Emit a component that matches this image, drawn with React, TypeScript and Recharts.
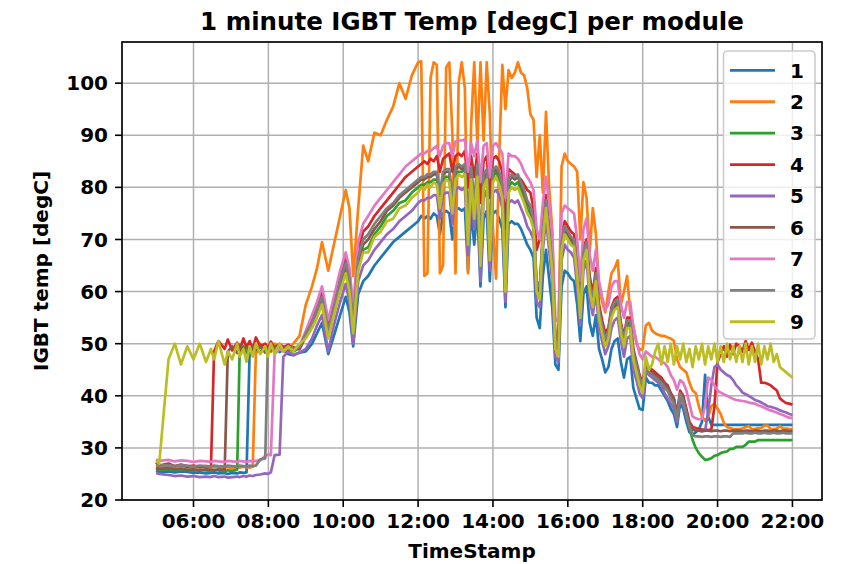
import React from 'react';
import { LineChart, Line, XAxis, YAxis, CartesianGrid } from 'recharts';

// ---------- data ----------
const timeStamps = [
  '05:00','05:05','05:20','05:30','05:40','05:50','06:00','06:10','06:20','06:28','06:33','06:40','06:50','06:55','07:02','07:10',
  '07:14','07:20','07:25','07:30','07:35','07:40','07:47','07:55','07:59','08:04','08:10','08:18','08:24','08:32','08:40','08:50',
  '09:00','09:10','09:18','09:26','09:36','09:45','09:55','10:04','10:10','10:16','10:24','10:32','10:40','10:50','11:00','11:10','11:20','11:30','11:40','11:50',
  '12:00','12:05','12:10','12:15','12:20','12:25','12:30','12:35','12:40','12:45','12:50','12:55',
  '13:00','13:05','13:10','13:15','13:20','13:25','13:30','13:35','13:40','13:45','13:50','13:55',
  '14:00','14:05','14:10','14:15','14:20','14:25','14:30','14:35','14:40','14:45','14:50','14:55',
  '15:00',
  '15:05','15:10','15:15','15:20','15:25','15:30','15:35','15:40','15:45','15:50','15:55','16:00',
  '16:05','16:10','16:15','16:20','16:25','16:30','16:35','16:40','16:45','16:50','16:55','17:00',
  '17:05','17:10','17:15','17:20','17:25','17:30','17:35','17:40','17:45','17:50','17:55','18:00',
  '18:05','18:10','18:15','18:20','18:25','18:30','18:35','18:40','18:45','18:50','18:55','19:00',
  '19:05','19:10','19:15','19:20','19:25','19:30','19:35','19:40','19:45','19:50','19:55','20:00',
  '20:05','20:10','20:15','20:20','20:25','20:30',
  '20:35','20:40','20:45','20:50','20:55','21:00','21:05','21:10','21:15','21:20','21:25','21:30',
  '21:35','21:40','21:45','21:50','21:55','22:00',
];

const module1 = [
  25.6,25.4,25.5,25.3,25.5,25.4,25.2,25.3,25.1,25.2,25.3,25.1,25.2,25.0,25.2,25.1,25.3,25.2,25.3,48.5,49,48.2,49.5,48.3,49,48.5,49.2,48.4,48.8,48,47.8,48.3,
  48.5,50,52,54,48,51.5,55.5,59,56,49.5,59.5,62,63,65,66.5,68,69.5,70.5,71.5,72.5,
  73.5,74.5,74,74.5,74,75,74.5,71,75,75.5,75,70,
  75.5,76,75.5,76,64,75.5,69,76,61,74,75.5,62,
  75,75.5,74,72,57,73,73.5,73,73,72,70.5,69,
  68,
  66.5,55,53,63,68,62.5,57,46,45,61,64,63.5,
  62.5,62,57.5,50.5,59.5,61,54,51.5,55.5,49,47,44.5,
  45.5,49,50.5,51,46.5,43.5,47,47.5,41.5,39.5,37.5,37.3,
  43.5,42.5,42.5,42,42,41,40,39,37.5,36.5,34,38.5,
  37.5,35,33,32.5,33,33.5,35,44,36,34.5,34.4,34.4,
  34.4,34.4,34.4,34.4,34.4,34.4,
  34.4,34.4,34.4,34.4,34.4,34.4,34.4,34.4,34.4,34.4,34.4,34.4,
  34.4,34.4,34.4,34.4,34.4,34.4,
];

const module2 = [
  26.5,26.3,26.4,26.2,26.4,26.3,26.2,26.4,26.3,26.2,26.4,26.3,26.2,26.3,26.1,26.3,26.2,26.4,26.3,26.2,26.4,48.5,50,48.7,49.6,48.5,50,49,49.5,49,50,51.5,
  57.5,61,64.5,69.5,64,69,74.5,79.5,76,63,76,88,85,90.5,90,93,95.5,100,97,101.5,
  104,104.2,63,63.5,101,104,103.5,63.5,65,103,104,90,
  63.5,100,104,99,63.5,92,104,88,104,89,104,94,
  72,62.5,86,103.5,95,102.5,101,102,104,102,101.5,99,
  94,
  93,82,90,79,94.5,80,72,50,52,84,86.5,85,
  84.5,84,83,70,81,78,67.5,76,71,61,58,56,
  60,63.5,64.5,66,57.5,60,63,56,53.5,50,48.8,49,
  53.5,54,52.5,52,51.7,51.5,51.5,51.2,51,50.5,47,45.5,
  45,44.5,42.5,41,40.5,38,36,35.2,36,38,38.5,37.5,
  36.5,34.8,34,33.8,33.6,33.6,
  33.6,33.7,34.0,34.2,33.6,33.6,33.8,33.8,34.3,34.3,33.6,33.6,
  33.7,34.2,33.7,33.7,33.6,33.6,
];

const module3 = [
  26,25.8,25.9,25.7,25.9,25.8,25.6,25.8,25.7,25.6,25.8,25.7,25.5,25.7,25.6,25.8,48.5,49.5,48.2,49,48.6,49.8,48.4,49.2,48.8,49.6,48.5,49.3,48.7,49,48.5,49.2,
  51.5,53.5,55.5,58,51.5,56,61,64,61,52.5,64.5,68,68.5,71,72.5,74.5,75.5,77,77.5,79,
  80,80.5,80.5,81,81,81.5,81.5,77,81.5,82,82,76,
  82.5,83,83,83.5,70,82.5,75,83,66,81,82.5,67,
  82,83,81.5,79,61,80,81,80.5,81,79.5,78,76,
  75,
  72.5,60.5,59,70.5,76.5,70.5,64.5,49.5,48,68.5,71.5,70.5,
  69.5,69,63.5,55.5,66.5,68.5,60.5,57.5,62.5,55.5,52.5,50,
  51.5,55.5,57,57.5,52.5,50,53.5,53.5,47.5,45,42.5,41,
  45,44.5,44,43.5,43,42.5,41.5,41,40,38.5,36,40,
  39.5,37,34,31.5,30,29,28.3,27.7,27.8,28,28.5,28.6,
  29,29.2,29.3,29.8,29.8,30.2,
  30.2,30.2,30.6,31.2,31.2,31.2,31.5,31.5,31.5,31.5,31.5,31.5,
  31.5,31.5,31.5,31.5,31.5,31.5,
];

const module4 = [
  27.2,26.6,27,26.5,26.8,26.4,26.6,26.3,26.5,26.4,48.5,50.5,49,50.8,48.7,50.2,48.8,51,49.3,50.5,48.9,51.2,49.5,50,49,50.4,49.2,50,49.3,49.8,49,49.6,
  51.5,54.5,57,60,53,58,63,66.5,63.5,55,68,71.5,72.5,74.5,76,77.5,79,80.5,82,83,
  84,84.5,85,84.5,85.5,85,86,83,85.5,86,86.5,83,
  86,86.5,86,87,80,86,82,86.5,77,85,86,78,
  85.5,86,85,83,72,83.5,83,82.5,82,81.5,80.5,79.5,
  79,
  76,68,70,74,78.5,73,67,51,49.5,71,73.5,72.5,
  71.5,71,66,58,68.5,70,63,59.5,64.5,57.5,54.5,52,
  53,57,58.5,59,54,51.5,55,55,49,46.5,44,42.5,
  46,45.5,45,44.5,44,43.5,42.5,42,40.5,39.5,36.5,41,
  40,37.5,35,34,33.8,33.6,33.5,33.5,33.4,33.5,38,46.5,
  48,49.5,47.5,49.8,48,50,
  49.5,48.5,50.5,48.8,50.2,48.5,47,42.5,42.5,42.3,42,41.5,
  41,39.5,39,38.6,38.5,38.3,
];

const module5 = [
  25.2,25,24.8,24.6,24.7,24.5,24.6,24.4,24.5,24.4,24.6,24.4,24.5,24.3,24.4,24.5,24.4,24.6,24.5,24.7,24.6,24.8,24.9,25.1,25,25.3,28.6,28.7,47.5,48.5,47.8,48.3,
  49,51,53.5,55.5,48.5,53.5,58,61.5,58,50,62,65,66,68,69.5,71,72,73.5,74.5,75.5,
  77,77.5,77.5,78,78,78.5,78.5,74,78.5,79,79,73,
  79.5,80,79.5,80,67,79.5,72,80,62,78,79.5,64,
  79,79.5,78.5,76,58,77,77.5,77,77.5,76,74.5,72.5,
  71.5,
  70,58,57,68,74,68,62,47.5,46.5,66,69,68,
  67.5,66.5,61,53.5,64,66,58.5,55.5,60,53,50.5,48,
  49.5,53,54.5,55,50.5,47.5,51,51.5,45,43,40.5,39.5,
  44.5,44,43.5,43,42.5,42,40.5,39.5,38.5,37.5,35,39.5,
  38.5,36,34,33.5,33.5,33.3,33.2,33.3,37,42,45.5,46,
  45,44.5,44,43.7,43,42,
  41.4,40.6,40.3,40,39.6,39.2,39,38.7,38.4,38,37.9,37.7,
  37.5,37.2,37,36.8,36.5,36.3,
];

const module6 = [
  26.2,26,26.1,25.9,26,25.8,25.9,25.7,25.9,25.8,25.7,25.9,25.8,48.5,49.5,48.2,49.8,48.6,49.3,48.4,49.6,48.8,49.5,48.5,49.4,48.7,49.5,48.6,49.2,48.8,49.3,48.9,
  51.5,53.5,56,58.5,52,56.5,61.5,65,61.5,53,65.5,69,70,72,73.5,75.5,76.5,78,79,80,
  81,81.5,81.5,82,82,82.5,82.5,78,82.5,83,83,77,
  83.5,84,83.5,84,71,83.5,76,84,67,82,83,68,
  83,83.5,82.5,80,62,81,82,81.5,82,80.5,79,77,
  76,
  73,61,60,71,77,71,65,50,48.5,69,72,71,
  70,69.5,64,56,67,69,61,58,63,56,53,50.5,
  52,56,57.5,58,53,50.5,54,54,48,45.5,43,41.5,
  45.5,45,44.5,44,43.5,43,42.5,41.5,40.5,39.5,36,40.5,
  39.5,37,34.5,33.5,33.3,33.3,33.2,33.3,33.3,33.2,33.3,33.3,
  33.2,33.3,33.3,33.2,33.3,33.3,
  33.3,33.2,33.3,33.3,33.2,33.3,33.3,33.2,33.3,33.3,33.2,33.3,
  33.3,33.2,33.3,33.3,33.2,33.3,
];

const module7 = [
  27.8,27.5,27.7,27.4,27.6,27.5,27.3,27.5,27.4,27.3,27.5,27.4,27.3,27.5,27.4,27.3,27.5,27.4,27.3,27.5,27.4,27.5,27.6,28.5,28.7,28.6,48,49,48.5,49.2,48.8,49.5,
  52.5,55.5,58,61,54.5,59,64,67.5,64.5,57,69.5,73,74.5,76.5,78,79.5,81,82.5,84,85,
  86,86.5,86.5,87,87,87.5,88,86,88,88.5,88.5,86,
  88.8,89,89,89.2,83,88.5,86,89,81,88,88.5,82,
  88,88.5,87.5,86.5,78,86.5,86,86,85.5,84.5,83,82,
  81,
  79.5,72,70,77,82,77,71,55,54,75,76.5,76,
  75.5,75,70,62,72,74,67,64,68,62,59,56.5,
  57.5,61,62,62,57.5,55,58,58,53,50.5,48,47,
  48.5,48,47.5,47.5,47,46.5,46.3,45.5,44,43,41.2,43,
  42.5,41,38.5,36,35.7,35.5,35.6,38,43.5,43,42,41,
  40.6,40.3,40,39.7,39.4,39.2,
  39.1,39,38.9,38.7,38.6,38.5,38.2,38,37.7,37.4,37.2,37,
  36.8,36.5,36.3,36,35.8,35.7,
];

const module8 = [
  26.8,26.6,26.7,26.5,26.7,26.6,26.4,26.6,26.5,26.4,26.6,26.5,26.4,26.6,26.5,26.4,26.6,26.5,26.4,26.6,26.5,26.6,27.8,28,48.5,49.5,48.7,49.6,48.8,49.4,49,49.5,
  52,54,56.5,59,52.5,57,62,65.5,62.5,53.5,66.5,70,71,73,74.5,76,77,78.5,79.5,80.5,
  81.5,82,82,82.5,82.5,83,83,79,83,83.5,83.5,78,
  84,84.5,84,84.5,72,84,77,84.5,68,82.5,83.5,69,
  83.5,84,83,80.5,63,81.5,82.5,82,82.5,81,79.5,77.5,
  76.5,
  73.5,62,61,71.5,77.5,71.5,65.5,50.5,49,69.5,72.5,71.5,
  70.5,70,64.5,56.5,67.5,69.5,61.5,58.5,63.5,56.5,53.5,51,
  52.5,56.5,58,58.5,53.5,51,54.5,54.5,48.5,46,43.5,42,
  45,44.5,44,43.5,43,42.5,41.7,41,39.5,38.6,35.5,40.5,
  39,36.5,34,32.5,32.2,32.2,32.1,32.2,32.2,32.1,32.2,32.2,
  32.1,32.2,32.2,32.1,32.8,32.8,
  32.8,32.8,32.9,32.8,32.8,32.9,32.8,32.8,32.9,32.8,32.8,32.9,
  32.8,32.8,32.9,32.8,32.8,32.8,
];

const module9 = [
  27.5,27,47,50,46,49.5,47,50,46.5,49,47,50.5,46,48.5,47,50,47.5,49,46.5,49.5,47.5,50,48,49.5,47.5,50,48,50,48.5,49.5,48.5,50,
  51,53,55,57.5,51,55.5,60,63.5,60,52,64,67.5,67.5,70.5,71.5,73.5,74,76,76.5,78,
  79,80,79.5,80.5,80,81,80.5,76,80.5,81.5,81,75,
  81.5,82.5,82,82.5,69,81.5,74,82,65,80,81.5,66,
  81,82,80.5,78,60,79,80,79.5,80,78.5,77,75,
  74,
  72,60,58.5,70,76,70,64,49,47.5,68,71,70,
  69,68.5,63,55,66,68,60,57,62,55,52,49.5,
  51,55,56.5,57,52,49.5,53,53,47,44.5,42,40.5,
  47.5,45,46,48.5,50,46,49.5,46.5,50,46,49.5,47,
  50,46.5,49,45.5,49.5,47,50,46,49.5,47,50,46.5,
  49.5,46.5,50,47,49.5,46.5,
  49.5,46.5,50,46,49.5,46.5,50,46,49.5,47,50,46.5,
  48,45.5,45,44.5,44,43.5,
];

const seriesNames = ['1', '2', '3', '4', '5', '6', '7', '8', '9'];
const seriesColors = ['#1f77b4', '#ff7f0e', '#2ca02c', '#d62728', '#9467bd', '#8c564b', '#e377c2', '#7f7f7f', '#bcbd22'];
const xTickLabels = ['06:00', '08:00', '10:00', '12:00', '14:00', '16:00', '18:00', '20:00', '22:00'];
const yTickValues = [20, 30, 40, 50, 60, 70, 80, 90, 100];

const title = '1 minute IGBT Temp [degC] per module';
const xLabel = 'TimeStamp';
const yLabel = 'IGBT temp [degC]';

// ---------- helpers ----------
const toHours = (s: string) => {
  const [h, m] = s.split(':').map(Number);
  return h + m / 60;
};
const modules = [module1, module2, module3, module4, module5, module6, module7, module8, module9];
const rows = timeStamps.map((t, i) => {
  const r: Record<string, number> = { t: toHours(t) };
  modules.forEach((m, k) => {
    r['m' + (k + 1)] = m[i];
  });
  return r;
});
const badLengths = modules
  .map((m, k) => (m.length !== timeStamps.length ? `m${k + 1}:${m.length}/${timeStamps.length}` : ''))
  .filter(Boolean)
  .join(' ');

const xTickValues = xTickLabels.map(toHours);
const labelOf: Record<string, string> = {};
xTickLabels.forEach((l) => {
  labelOf[toHours(l).toFixed(3)] = l;
});

const FONT = "'DejaVu Sans', 'Liberation Sans', sans-serif";
const W = 841;
const H = 564;
const PLOT = { left: 122, right: 822, top: 42, bottom: 500 };

const tickStyle = { fill: '#000', fontSize: 20, fontWeight: 700, fontFamily: FONT };

export default function App() {
  const legendLeft = 723.5;
  const legendTop = 51;
  const legendW = 91.5;
  const legendH = 288;
  const rowY0 = 70.3;
  const rowStep = 31.43;
  return (
    <div style={{ position: 'absolute', left: 0, top: 0, width: W, height: H, background: '#fff' }}>
      <LineChart
        width={W}
        height={H}
        data={rows}
        margin={{ top: PLOT.top, right: W - PLOT.right, left: 0, bottom: 0 }}
      >
        <CartesianGrid stroke="#b0b0b0" strokeWidth={1.5} />
        <XAxis
          dataKey="t"
          type="number"
          domain={[4.09, 22.79]}
          allowDataOverflow
          ticks={xTickValues}
          tickFormatter={(v: number) => labelOf[v.toFixed(3)] ?? ''}
          height={H - PLOT.bottom}
          tickSize={7}
          tickMargin={7}
          axisLine={false}
          tickLine={{ stroke: '#000', strokeWidth: 1.6 }}
          tick={tickStyle}
          interval={0}
        />
        <YAxis
          type="number"
          domain={[20, 107.9]}
          allowDataOverflow
          ticks={yTickValues}
          width={PLOT.left}
          tickSize={7}
          tickMargin={7}
          axisLine={false}
          tickLine={{ stroke: '#000', strokeWidth: 1.6 }}
          tick={tickStyle}
          interval={0}
        />
        {seriesNames.map((name, k) => (
          <Line
            key={name}
            name={name}
            dataKey={'m' + (k + 1)}
            type="linear"
            stroke={seriesColors[k]}
            strokeWidth={2.7}
            dot={false}
            activeDot={false}
            isAnimationActive={false}
            strokeLinejoin="round"
          />
        ))}
      </LineChart>
      <svg
        width={W}
        height={H}
        style={{ position: 'absolute', left: 0, top: 0, pointerEvents: 'none' }}
        fontFamily={FONT}
      >
        <rect
          x={PLOT.left}
          y={PLOT.top}
          width={PLOT.right - PLOT.left}
          height={PLOT.bottom - PLOT.top}
          fill="none"
          stroke="#000"
          strokeWidth={1.6}
        />
        <text x={(PLOT.left + PLOT.right) / 2} y={29.5} textAnchor="middle" fontSize={24.5} fontWeight={700} fill="#000">
          {title}
        </text>
        <text x={(PLOT.left + PLOT.right) / 2} y={558} textAnchor="middle" fontSize={20} fontWeight={700} fill="#000">
          {xLabel}
        </text>
        <text
          transform={`translate(48, ${(PLOT.top + PLOT.bottom) / 2}) rotate(-90)`}
          textAnchor="middle"
          fontSize={20}
          fontWeight={700}
          fill="#000"
        >
          {yLabel}
        </text>
        <rect
          x={legendLeft}
          y={legendTop}
          width={legendW}
          height={legendH}
          rx={4}
          ry={4}
          fill="#fff"
          fillOpacity={0.8}
          stroke="#cccccc"
          strokeWidth={1.6}
        />
        {seriesNames.map((name, k) => {
          const y = rowY0 + k * rowStep;
          return (
            <g key={name}>
              <line x1={730} x2={775} y1={y} y2={y} stroke={seriesColors[k]} strokeWidth={2.8} />
              <text x={790} y={y + 7.3} fontSize={20} fontWeight={700} fill="#000">
                {name}
              </text>
            </g>
          );
        })}
        {badLengths ? (
          <text x={130} y={60} fill="red" fontSize={14}>
            {badLengths}
          </text>
        ) : null}
      </svg>
    </div>
  );
}
